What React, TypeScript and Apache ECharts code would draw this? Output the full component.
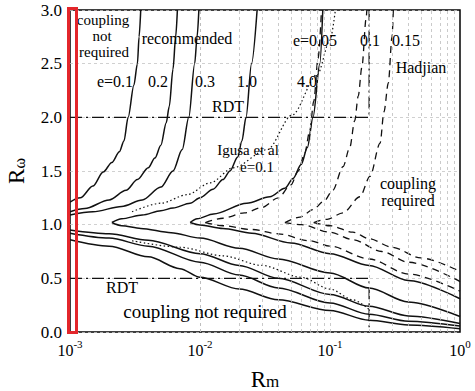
import React, { useEffect, useRef } from "react";
import * as echarts from "echarts";

const FONT = '"Liberation Serif", "Times New Roman", serif';

// ---- data (Rm, Rω) ----
const e01Upper = [[0.001,1.21],[0.0012,1.25],[0.0015,1.36],[0.0018,1.49],[0.0021,1.58],[0.0024,1.68],[0.0026,1.78],[0.0028,2.0],[0.0031,2.3],[0.0033,2.5],[0.0034,2.75],[0.0035,3.0]];
const e02Upper = [[0.001,1.12],[0.0013,1.15],[0.002,1.23],[0.0027,1.32],[0.0033,1.42],[0.004,1.53],[0.0045,1.62],[0.005,1.74],[0.0055,1.95],[0.0058,2.1],[0.0062,2.45],[0.0065,2.75],[0.0067,3.0]];
const e03Upper = [[0.001,1.09],[0.0015,1.12],[0.0025,1.17],[0.0036,1.23],[0.005,1.35],[0.0062,1.5],[0.0073,1.7],[0.0082,2.0],[0.0091,2.5],[0.0095,2.75],[0.0098,3.0]];
const e10Upper = [[0.0021,1.02],[0.0025,1.055],[0.0036,1.09],[0.005,1.13],[0.0062,1.155],[0.0084,1.2],[0.01,1.25],[0.0126,1.33],[0.015,1.42],[0.017,1.5],[0.0195,1.63],[0.021,1.78],[0.0226,2.0],[0.0249,2.5],[0.0275,3.0]];
const e40Upper = [[0.0084,1.02],[0.0095,1.055],[0.0127,1.1],[0.0229,1.2],[0.0345,1.26],[0.045,1.34],[0.052,1.43],[0.06,1.56],[0.067,1.72],[0.074,2.0],[0.0835,2.5],[0.088,3.0]];

const e01Lower = [[0.001,0.86],[0.002,0.8],[0.004,0.7],[0.007,0.59],[0.01,0.51],[0.02,0.4],[0.04,0.3],[0.1,0.2],[0.2,0.11],[0.4,0.065],[1.0,0.03]];
const e02Lower = [[0.001,0.92],[0.002,0.875],[0.004,0.8],[0.01,0.65],[0.02,0.53],[0.04,0.41],[0.1,0.27],[0.2,0.165],[0.4,0.1],[1.0,0.055]];
const e03Lower = [[0.001,0.95],[0.002,0.915],[0.004,0.855],[0.01,0.73],[0.02,0.62],[0.04,0.5],[0.1,0.35],[0.2,0.24],[0.4,0.15],[1.0,0.08]];
const e10Lower = [[0.0021,1.02],[0.0025,0.99],[0.0035,0.965],[0.006,0.925],[0.01,0.875],[0.02,0.78],[0.04,0.68],[0.1,0.55],[0.2,0.41],[0.4,0.28],[1.0,0.145]];
const e40Lower = [[0.0084,1.02],[0.01,0.997],[0.015,0.965],[0.025,0.92],[0.05,0.83],[0.1,0.73],[0.2,0.62],[0.4,0.48],[1.0,0.31]];

const h005Upper = [[0.011,1.02],[0.015,1.06],[0.022,1.11],[0.03,1.16],[0.04,1.25],[0.05,1.37],[0.057,1.5],[0.064,1.67],[0.07,1.88],[0.075,2.15],[0.081,2.55],[0.086,3.0]];
const h005Lower = [[0.011,1.02],[0.015,0.99],[0.025,0.955],[0.04,0.915],[0.07,0.85],[0.1,0.8],[0.2,0.68],[0.4,0.54],[1.0,0.38]];
const h010Upper = [[0.045,1.02],[0.0588,1.07],[0.074,1.14],[0.09,1.22],[0.105,1.32],[0.126,1.54],[0.142,1.72],[0.155,1.97],[0.165,2.2],[0.176,2.47],[0.19,2.93],[0.192,3.0]];
const h010Lower = [[0.045,1.02],[0.06,1.0],[0.1,0.93],[0.15,0.86],[0.25,0.75],[0.4,0.65],[1.0,0.47]];
const h015Upper = [[0.075,1.02],[0.095,1.05],[0.126,1.11],[0.17,1.26],[0.203,1.45],[0.243,1.76],[0.26,2.05],[0.281,2.32],[0.3,2.75],[0.307,3.0]];
const h015Lower = [[0.075,1.02],[0.1,0.99],[0.15,0.93],[0.2,0.87],[0.3,0.79],[0.5,0.69],[1.0,0.565]];

const igusaUpper = [[0.003,1.12],[0.005,1.2],[0.008,1.28],[0.012,1.39],[0.018,1.53],[0.033,1.7],[0.051,2.02],[0.08,2.4],[0.1,2.72],[0.11,3.0]];
const igusaLower = [[0.003,0.85],[0.007,0.79],[0.015,0.71],[0.03,0.62],[0.06,0.51],[0.1,0.4],[0.15,0.3],[0.2,0.21]];

const rdtUpper = [[0.001,2.0],[0.2,2.0],[0.2,3.0]];
const rdtLower = [[0.001,0.5],[0.2,0.5],[0.2,0.0]];

const gridXs = [
  0.002,0.003,0.004,0.005,0.006,0.007,0.008,0.009,0.01,
  0.02,0.03,0.04,0.05,0.06,0.07,0.08,0.09,0.1,
  0.2,0.3,0.4,0.5,0.6,0.7,0.8,0.9,
];

type Kind = "solid" | "dashed" | "dotted" | "dashdot";
const STYLES: Record<Kind, any> = {
  solid: { type: "solid", width: 1.5 },
  dashed: { type: [7, 5], width: 1.3 },
  dotted: { type: [1.5, 2.5], width: 1.2 },
  dashdot: { type: [12, 4, 2, 4], width: 1.3 },
};

function curve(data: number[][], kind: Kind) {
  return {
    type: "line",
    data,
    symbol: "none",
    smooth: kind === "dashdot" ? false : 0.3,
    smoothMonotone: "x",
    silent: true,
    lineStyle: { color: "#111", ...STYLES[kind] },
    z: 3,
  };
}

function txt(text: string, x: number, y: number, size = 16) {
  return {
    type: "text",
    x,
    y,
    z: 10,
    style: {
      text,
      fill: "#000",
      font: `${size}px ${FONT}`,
      align: "center",
      verticalAlign: "middle",
    },
  };
}

export default function App() {
  const ref = useRef<HTMLDivElement>(null);
  useEffect(() => {
    const chart = echarts.init(ref.current!, null, { renderer: "svg" });
    chart.setOption({
      animation: false,
      backgroundColor: "#fff",
      grid: {
        left: 70, right: 15, top: 10, bottom: 59,
        outerBoundsMode: "none",
        containLabel: false,
        show: true, borderColor: "#000", borderWidth: 1.5,
      },
      xAxis: {
        type: "log",
        logBase: 10,
        min: 0.001,
        max: 1,
        axisLine: { show: false },
        axisTick: { show: false },
        splitLine: { show: false },
        axisLabel: {
          margin: 6,
          color: "#000",
          formatter: (v: number) => `{b|10}{s|${Math.round(Math.log10(v))}}`,
          rich: {
            b: { fontSize: 16, fontFamily: FONT, lineHeight: 20, verticalAlign: "bottom", color: "#000" },
            s: { fontSize: 11, fontFamily: FONT, lineHeight: 11, verticalAlign: "top", color: "#000" },
          },
        },
        name: "{r|R}{m|m}",
        nameLocation: "middle",
        nameGap: 36,
        nameTextStyle: {
          rich: {
            r: { fontSize: 23, fontFamily: FONT, lineHeight: 22, verticalAlign: "top", color: "#000" },
            m: { fontSize: 17, fontFamily: FONT, lineHeight: 12, verticalAlign: "bottom", color: "#000" },
          },
        },
      },
      yAxis: {
        type: "value",
        min: 0,
        max: 3,
        interval: 0.5,
        axisLine: { show: false },
        axisTick: { show: false },
        splitLine: { show: true, lineStyle: { color: "#c4c4c4", type: [3, 3], width: 0.8 } },
        axisLabel: {
          margin: 8,
          color: "#000",
          fontSize: 17,
          fontFamily: FONT,
          formatter: (v: number) => v.toFixed(1),
        },
        name: "{r|R}{w|ω}",
        nameLocation: "middle",
        nameRotate: 90,
        nameGap: 43,
        nameTextStyle: {
          rich: {
            r: { fontSize: 23, fontFamily: FONT, lineHeight: 22, verticalAlign: "top", color: "#000" },
            w: { fontSize: 16, fontFamily: FONT, lineHeight: 12, verticalAlign: "bottom", color: "#000" },
          },
        },
      },
      series: [
        {
          type: "line",
          data: [[0.001, 0]],
          symbol: "none",
          lineStyle: { opacity: 0 },
          silent: true,
          z: 1,
          markLine: {
            silent: true,
            symbol: ["none", "none"],
            label: { show: false },
            lineStyle: { color: "#bdbdbd", type: [3, 3], width: 0.8 },
            data: gridXs.map((v) => ({ xAxis: v })),
          },
        },
        curve(e01Upper, "solid"),
        curve(e02Upper, "solid"),
        curve(e03Upper, "solid"),
        curve(e10Upper, "solid"),
        curve(e40Upper, "solid"),
        curve(e01Lower, "solid"),
        curve(e02Lower, "solid"),
        curve(e03Lower, "solid"),
        curve(e10Lower, "solid"),
        curve(e40Lower, "solid"),
        curve(h005Upper, "dashed"),
        curve(h005Lower, "dashed"),
        curve(h010Upper, "dashed"),
        curve(h010Lower, "dashed"),
        curve(h015Upper, "dashed"),
        curve(h015Lower, "dashed"),
        curve(igusaUpper, "dotted"),
        curve(igusaLower, "dotted"),
        curve(rdtUpper, "dashdot"),
        curve(rdtLower, "dashdot"),
      ],
      graphic: [
        txt("coupling", 103, 20, 15),
        txt("not", 102, 36, 15),
        txt("required", 104, 52, 15),
        txt("recommended", 187, 38),
        txt("e=0.1", 115, 81),
        txt("0.2", 158, 81),
        txt("0.3", 205, 81),
        txt("1.0", 247, 81),
        txt("4.0", 307, 81),
        txt("RDT", 228, 106.5),
        txt("e=0.05", 315, 40.6),
        txt("0.1", 370, 40.6),
        txt("0.15", 406, 40.6),
        txt("Hadjian", 421, 67.3),
        txt("Igusa et al", 248, 150, 15),
        txt("e=0.1", 257, 167, 15),
        txt("coupling", 408, 183, 16),
        txt("required", 408, 200, 16),
        txt("RDT", 122, 287.3),
        txt("coupling not required", 205, 311.5, 19),
        {
          type: "rect",
          z: 20,
          shape: { x: 68.5, y: 8.5, width: 8, height: 324 },
          style: { fill: "none", stroke: "#e3262b", lineWidth: 3 },
        },
      ],
    });
    return () => chart.dispose();
  }, []);
  return (
    <div
      ref={ref}
      style={{ position: "fixed", left: 0, top: 0, width: 475, height: 391, background: "#fff" }}
    />
  );
}
